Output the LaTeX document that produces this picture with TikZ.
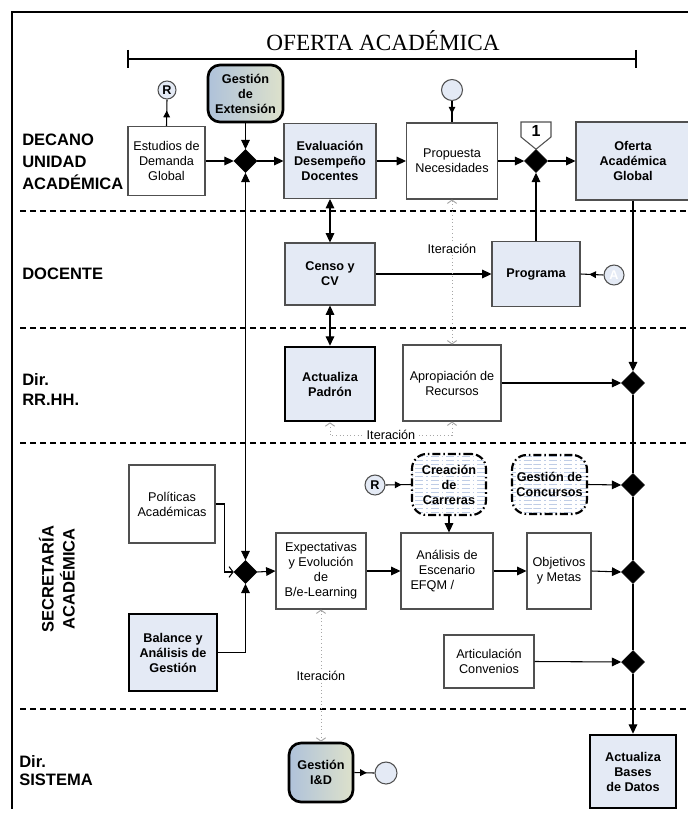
\documentclass[tikz,border=0pt]{standalone}
\usepackage{fontspec}
\setmainfont{Liberation Sans}
\newfontfamily\titlefont{Liberation Serif}
\usetikzlibrary{arrows.meta,shapes.geometric,decorations.markings,patterns,calc}
\def\PX{0.75pt}
\definecolor{lb}{HTML}{E4EAF5}
\definecolor{bd}{HTML}{505050}
\definecolor{gl}{HTML}{AFC2DA}
\definecolor{gr}{HTML}{DDE1CB}
\definecolor{stripe}{HTML}{BFCDE6}
\begin{document}
\begin{tikzpicture}[x=0.75pt,y=-0.75pt,
  every node/.style={inner sep=0pt, align=center},
  sz/.style 2 args={minimum width=#1*\PX, minimum height=#2*\PX},
  fsz/.style={font=\fontsize{9.5}{11.25}\selectfont},
  fszb/.style={font=\fontsize{9.5}{11.25}\selectfont\bfseries},
  wbox/.style={draw=bd, line width=0.8pt, fill=white, fsz},
  bbox/.style={draw=bd, line width=0.8pt, fill=lb, fszb},
  tbox/.style={draw=black, line width=2pt, fill=lb, fszb},
  gbox/.style={draw=black, line width=2pt, rounded corners=9pt, left color=gl, right color=gr, fszb},
  cbox/.style={draw=black, line width=1.6pt, dash pattern=on 6pt off 2.2pt on 1.2pt off 2.2pt, rounded corners=11pt, preaction={fill=white}, pattern=horizontal lines, pattern color=stripe, fszb},
  dmd/.style={diamond, fill=black, draw=black, minimum width=23*\PX, minimum height=23*\PX},
  circ/.style={circle, draw=bd, line width=0.8pt, fill=lb, fszb},
  conn/.style={draw=black, line width=0.8pt, -{Triangle[length=7pt,width=6.5pt]}},
  dconn/.style={draw=black, line width=0.8pt, {Triangle[length=7pt,width=6.5pt]}-{Triangle[length=7pt,width=6.5pt]}},
  ln/.style={draw=black, line width=0.8pt},
  midarr/.style={draw=black, line width=0.8pt, postaction={decorate}, decoration={markings, mark=at position #1 with {\arrow{Triangle[length=5pt,width=5pt]}}}},
  itr/.style={draw=gray!70, line width=0.7pt, dotted, {Straight Barb[length=2.5pt,width=7pt]}-{Straight Barb[length=2.5pt,width=7pt]}},
  itlab/.style={fill=white, fsz, inner sep=1pt},
  lane/.style={draw=black, line width=0.9pt, dash pattern=on 4.5pt off 3pt},
  lanelab/.style={font=\fontsize{12.4}{16.3}\selectfont\bfseries, align=left, anchor=west},
]
\useasboundingbox (0,0) rectangle (688,817);
% frame and title
\draw[line width=1.5pt] (688,12) -- (12,12) -- (12,809);
\node[font=\titlefont\fontsize{17.4}{20}\selectfont] (title) at (383,41) {OFERTA ACADÉMICA};
\draw[line width=0.9pt] (128,50) -- (128,68) (128,59) -- (636,59) (636,50) -- (636,68);
% lanes
\draw[lane] (20,211) -- (688,211);
\draw[lane] (20,328) -- (688,328);
\draw[lane] (20,443) -- (688,443);
\draw[lane] (20,709) -- (688,709);
\node[lanelab] (lDec) at (22,162) {DECANO\\UNIDAD\\ACADÉMICA};
\node[lanelab] (lDoc) at (22,274) {DOCENTE};
\node[lanelab, font=\fontsize{12.4}{15}\selectfont\bfseries] (lRH) at (22,390) {Dir.\\RR.HH.};
\node[font=\fontsize{12.4}{15.75}\selectfont\bfseries, rotate=90] (lSec) at (57,579) {SECRETARÍA\\ACADÉMICA};
\node[lanelab, font=\fontsize{12.4}{13.5}\selectfont\bfseries] (lSis) at (19,771) {Dir.\\SISTEMA};
% row 1
\node[wbox, sz={77}{69}] (est) at (166.5,161) {Estudios de\\Demanda\\Global};
\node[circ, minimum size=18*\PX] (rtop) at (167,90) {R};
\node[gbox, sz={75}{57}] (gext) at (245.5,93.5) {Gestión\\de\\Extensión};
\node[dmd] (d1) at (245.5,161) {};
\node[bbox, sz={92}{75}] (eval) at (330,161) {Evaluación\\Desempeño\\Docentes};
\node[wbox, sz={91}{76}] (prop) at (452,161) {Propuesta\\Necesidades};
\node[circ, minimum size=21*\PX] (ctop) at (452,90) {};
\node[dmd] (d2) at (536,161) {};
\node[bbox, sz={114}{78}] (ofg) at (633,161) {Oferta\\Académica\\Global};
% row 2
\node[bbox, sz={90}{62}] (censo) at (330,274) {Censo y\\CV};
\node[bbox, sz={88}{65}] (prog) at (536,274) {Programa};
\node[circ, minimum size=20*\PX, text=white] (cA) at (614,275) {A};
% row 3
\node[tbox, sz={90}{74}] (padron) at (330,384) {Actualiza\\Padrón};
\node[wbox, sz={98}{76}] (aprop) at (452,383) {Apropiación de\\Recursos};
\node[dmd] (d4) at (633,383) {};
% row 4
\node[wbox, sz={86}{78}] (pol) at (172,504) {Políticas\\Académicas};
\node[tbox, sz={88}{77}] (bal) at (173,652.5) {Balance y\\Análisis de\\Gestión};
\node[dmd] (d3) at (245.5,572) {};
\node[wbox, sz={90}{76}] (expe) at (321,571) {Expectativas\\y Evolución\\de\\B/e-Learning};
\node[circ, minimum size=20*\PX] (rsec) at (375,485) {R};
\node[cbox, sz={74}{61}] (crea) at (449,484.5) {Creación\\de\\Carreras};
\node[cbox, sz={75}{59}] (conc) at (549.5,484.5) {Gestión de\\Concursos};
\node[wbox, sz={92}{76}] (anal) at (447,571) {Análisis de\\Escenario\\EFQM /\hspace*{22pt}};
\node[wbox, sz={64}{76}] (obj) at (559,571) {Objetivos\\y Metas};
\node[wbox, sz={90}{53}] (art) at (489,661.5) {Articulación\\Convenios};
\node[dmd] (d5) at (633,485) {};
\node[dmd] (d6) at (633,572) {};
\node[dmd] (d7) at (633,662) {};
% row 5
\node[gbox, sz={64}{59}] (gid) at (321,772.5) {Gestión\\I\&D};
\node[circ, minimum size=22*\PX] (cbot) at (386,773) {};
\node[tbox, sz={86}{73}] (abd) at (633,771.5) {Actualiza\\Bases\\de Datos};
% marker 1
\draw[draw=bd, fill=white, line width=0.8pt] (521,122) -- (551,122) -- (551,137) -- (d2.north) -- (521,137) -- cycle;
\node[font=\fontsize{12}{14}\selectfont\bfseries] (one) at (536,131) {1};
% connectors
\draw[midarr=0.58] (est.north) -- (rtop.south);
\draw[conn] (est.east) -- (d1.west);
\draw[conn] (gext.south) -- (d1.north);
\draw[dconn] (d1.south) -- (d3.north);
\draw[conn] (d1.east) -- (eval.west);
\draw[conn] (eval.east) -- (prop.west);
\draw[midarr=0.58] (ctop.south) -- (prop.north);
\draw[conn] (prop.east) -- (d2.west);
\draw[conn] (d2.east) -- (ofg.west);
\draw[dconn] (eval.south) -- (censo.north);
\draw[dconn] (censo.south) -- (padron.north);
\draw[conn] (censo.east) -- (prog.west);
\draw[conn] (prog.north) -- (d2.south);
\draw[midarr=0.62] (cA.west) -- (prog.east);
\draw[itr] (prop.south) -- node[itlab, pos=0.34] {Iteración} (aprop.north);
\draw[itr] (padron.south) -- ++(0,13) -| node[itlab, pos=0.25] {Iteración} (aprop.south);
\draw[itr] (expe.south) -- node[itlab, midway] {Iteración} (gid.north);
\draw[conn] (aprop.east) -- (d4.west);
\draw[conn] (ofg.south) -- (d4.north);
\draw[ln] (d4.south) -- (d5.north) (d5.south) -- (d6.north) (d6.south) -- (d7.north);
\draw[conn] (d7.south) -- (abd.north);
\draw[midarr=0.63] (rsec.east) -- (crea.west);
\draw[conn] (crea.south) -- (crea.south |- anal.north);
\draw[conn] (conc.east) -- (d5.west);
\draw[conn] (d3.east) -- (expe.west);
\draw[conn] (expe.east) -- (anal.west);
\draw[conn] (anal.east) -- (obj.west);
\draw[conn] (obj.east) -- (d6.west);
\draw[conn] (art.east) -- (d7.west);
\draw[ln, -{Straight Barb[length=3pt,width=8pt]}] (pol.east) -| ([xshift=-9*\PX]d3.west) -- (d3.west);
\draw[conn] (bal.east) -| (d3.south);
\draw[midarr=0.62] (gid.east) -- (cbot.west);
\end{tikzpicture}
\end{document}
